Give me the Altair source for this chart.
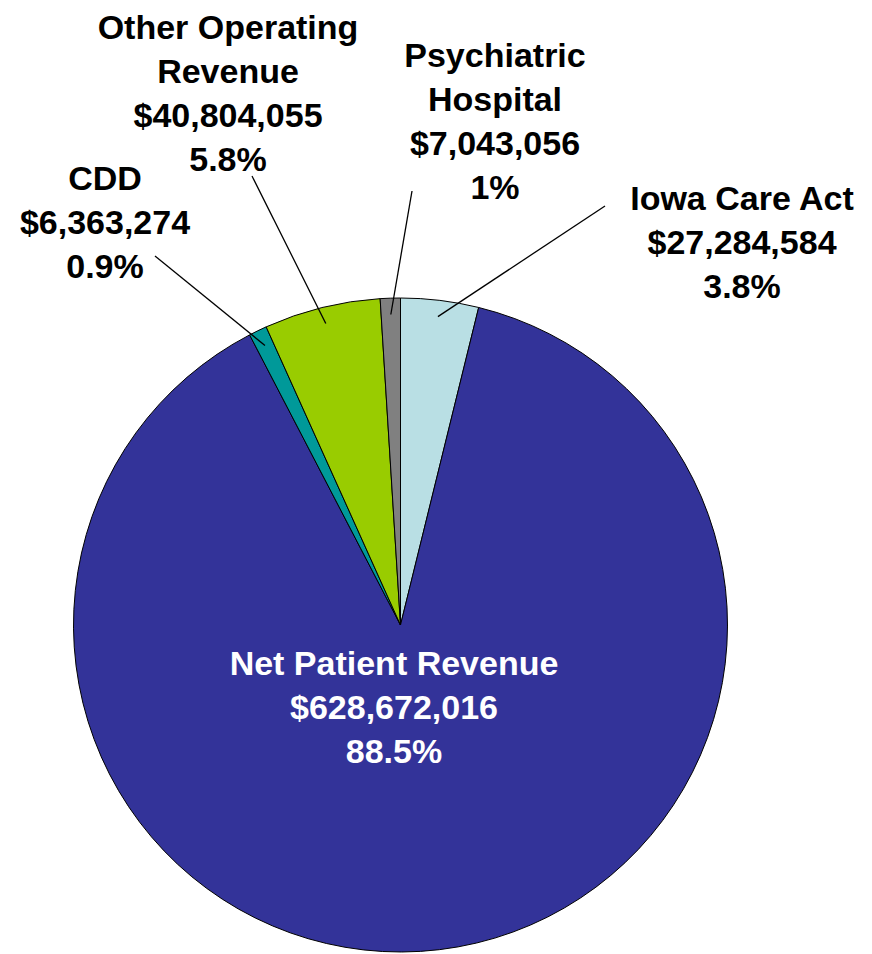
import math
import altair as alt
import pandas as pd

# ---- data (clockwise from 12 o'clock) ----
labels = ["Iowa Care Act", "Net Patient Revenue", "CDD",
          "Other Operating Revenue", "Psychiatric Hospital"]
values = [27284584, 628672016, 6363274, 40804055, 7043056]
pct_labels = ["3.8%", "88.5%", "0.9%", "5.8%", "1%"]
label_lines = [["Iowa Care Act"], ["Net Patient Revenue"], ["CDD"],
               ["Other Operating", "Revenue"], ["Psychiatric", "Hospital"]]

# ---- styles / layout ----
colors = ["#B9DFE4", "#333399", "#009999", "#99CC00", "#808080"]
CX, CY, R = 392.5, 617, 327
FONT = "Liberation Sans"
FS = 34
LH = 44
# label anchor (center x, first-line baseline y) and leader line start
layout = {
    "Iowa Care Act": dict(x=734, y=202, fill="black", lx=597, ly=198),
    "Net Patient Revenue": dict(x=386, y=667, fill="white", lx=None, ly=None),
    "CDD": dict(x=97, y=182, fill="black", lx=147, ly=248),
    "Other Operating Revenue": dict(x=220, y=31, fill="black", lx=244, ly=168),
    "Psychiatric Hospital": dict(x=487, y=59, fill="black", lx=404, ly=183),
}

total = sum(values)
df = pd.DataFrame({"label": labels, "value": values,
                   "order": list(range(len(labels)))})

rows = []
lines = []
cum = 0
for lab, v, p, ll in zip(labels, values, pct_labels, label_lines):
    mid = (cum + v / 2) / total * 2 * math.pi
    cum += v
    L = layout[lab]
    text = ll + ["${:,}".format(v), p]
    rows.append(dict(label=lab, text=text, x=L["x"], y=L["y"], fill=L["fill"]))
    if L["lx"] is not None:
        r_in = 0.95 * R
        lines.append(dict(label=lab, x=L["lx"], y=L["ly"],
                          x2=CX + r_in * math.sin(mid),
                          y2=CY - r_in * math.cos(mid)))
tdf = pd.DataFrame(rows)
ldf = pd.DataFrame(lines)

pie = alt.Chart(df).mark_arc(radius=R, stroke="black", strokeWidth=1).encode(
    theta=alt.Theta("value:Q", stack=True),
    color=alt.Color("label:N", scale=alt.Scale(domain=labels, range=colors), legend=None),
    order=alt.Order("order:Q"),
    x=alt.value(CX),
    y=alt.value(CY),
)

leaders = alt.Chart(ldf).mark_rule(color="black", strokeWidth=1.3).encode(
    x=alt.X("x:Q", scale=None), y=alt.Y("y:Q", scale=None),
    x2="x2:Q", y2="y2:Q",
)

texts = alt.Chart(tdf).mark_text(
    font=FONT, fontSize=FS, fontWeight="bold", lineHeight=LH,
    align="center", baseline="alphabetic",
).encode(
    x=alt.X("x:Q", scale=None), y=alt.Y("y:Q", scale=None),
    text="text", color=alt.Color("fill:N", scale=None),
)

chart = alt.layer(pie, leaders, texts).properties(
    width=856, height=946, padding=0, autosize=alt.AutoSizeParams(type="none"),
).configure_view(stroke=None)

chart.save("out.html", embed_options={"renderer": "svg", "actions": False})
